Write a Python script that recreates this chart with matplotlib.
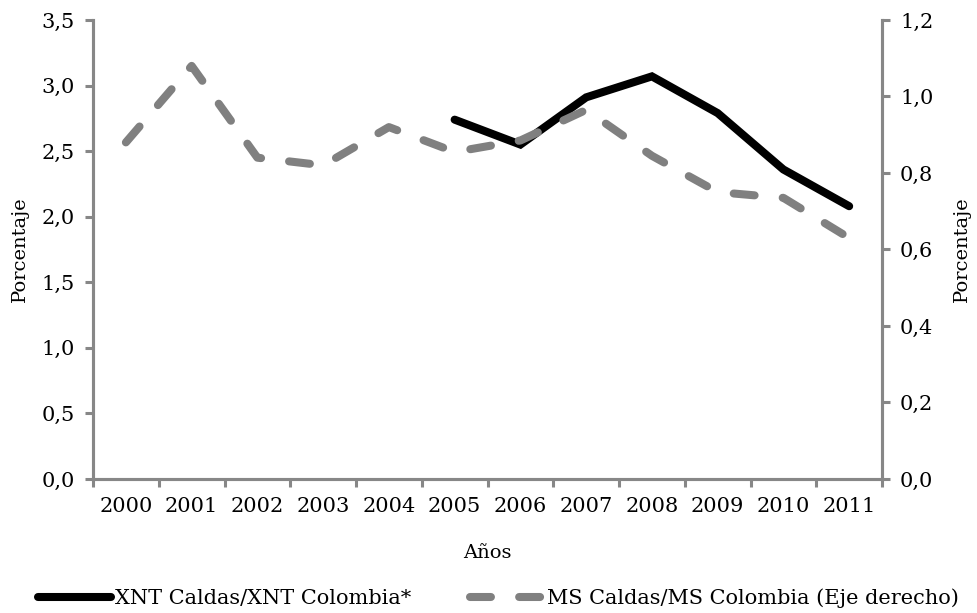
import numpy as np
import matplotlib
matplotlib.use("Agg")
import matplotlib.pyplot as plt
from matplotlib.ticker import FixedLocator, MultipleLocator, FuncFormatter

plt.rcParams['font.family'] = ['DejaVu Serif']
plt.rcParams['font.size'] = 14

# Data
years = ["2000", "2001", "2002", "2003", "2004", "2005",
         "2006", "2007", "2008", "2009", "2010", "2011"]
xnt_ratio = [np.nan, np.nan, np.nan, np.nan, np.nan, 2.74,
             2.55, 2.91, 3.07, 2.79, 2.36, 2.08]
ms_ratio = [0.88, 1.08, 0.84, 0.82, 0.92, 0.855,
            0.885, 0.965, 0.845, 0.75, 0.735, 0.63]

AXIS_GRAY = "#878787"
LINE_GRAY = "#808080"


def comma_fmt(v, _pos):
    return f"{v:.1f}".replace(".", ",")


fig = plt.figure(figsize=(9.77, 6.13), dpi=100)
ax = fig.add_axes([0.0952, 0.2186, 0.8076, 0.7488])
ax2 = ax.twinx()

x = np.arange(len(years))

line1, = ax.plot(x, xnt_ratio, color="black", lw=5.8,
                 solid_capstyle="round", solid_joinstyle="miter",
                 label="XNT Caldas/XNT Colombia*")
line2, = ax2.plot(x, ms_ratio, color=LINE_GRAY, lw=5.8,
                  dashes=(2.6, 3.5), dash_capstyle="round",
                  dash_joinstyle="round",
                  label="MS Caldas/MS Colombia (Eje derecho)")

ax.set_xlim(-0.5, len(years) - 0.5)
ax.set_ylim(0, 3.5)
ax2.set_ylim(0, 1.2)

ax.yaxis.set_major_locator(MultipleLocator(0.5))
ax2.yaxis.set_major_locator(MultipleLocator(0.2))
ax.yaxis.set_major_formatter(FuncFormatter(comma_fmt))
ax2.yaxis.set_major_formatter(FuncFormatter(comma_fmt))

# category labels at centres, tick marks between categories
ax.set_xticks(x)
ax.set_xticklabels(years)
ax.xaxis.set_minor_locator(FixedLocator(np.arange(-0.5, len(years), 1.0)))
ax.tick_params(axis="x", which="major", length=0, pad=13, labelsize=15)
ax.tick_params(axis="x", which="minor", length=6, width=2.2,
               color=AXIS_GRAY, direction="out")
ax.tick_params(axis="y", length=6, width=2.2, color=AXIS_GRAY, pad=7,
               labelsize=15)
ax2.tick_params(axis="y", length=6, width=2.2, color=AXIS_GRAY, pad=7,
                labelsize=15)

for a in (ax, ax2):
    a.spines["top"].set_visible(False)
    for side in ("left", "right", "bottom"):
        a.spines[side].set_color(AXIS_GRAY)
        a.spines[side].set_linewidth(2.2)

ax.set_xlabel("Años", labelpad=20)
ax.set_ylabel("Porcentaje", labelpad=9)
ax2.set_ylabel("Porcentaje", labelpad=14)

fig.legend(handles=[line1, line2], loc="center", ncol=2,
           bbox_to_anchor=(0.51, 0.0245), frameon=False, fontsize=15,
           handlelength=3.5, handletextpad=0.2, columnspacing=2.8)

fig.savefig("out.png", dpi=100)
